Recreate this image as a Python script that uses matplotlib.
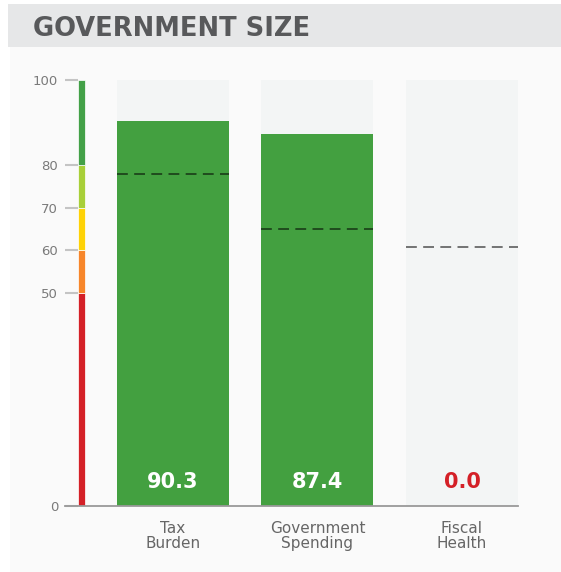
import matplotlib
matplotlib.use("Agg")
import matplotlib.pyplot as plt
from matplotlib.patches import Rectangle

# data
categories = ["Tax\nBurden", "Government\nSpending", "Fiscal\nHealth"]
scores = [90.3, 87.4, 0.0]
averages = [77.9, 65.0, 60.7]
score_text_colors = ["white", "white", "#d42027"]

band_edges = [0, 50, 60, 70, 80, 100]
band_colors = ["#d42027", "#f7862a", "#fed206", "#a8cf38", "#43a047"]
yticks = [0, 50, 60, 70, 80, 100]

W, H = 561, 572
fig = plt.figure(figsize=(W / 100, H / 100), dpi=100)
fig.patch.set_facecolor("white")

# panel and title band
fig.add_artist(Rectangle((10 / W, 0), 1, (H - 47) / H, transform=fig.transFigure,
                         facecolor="#fafafa", edgecolor="none", zorder=0))
fig.add_artist(Rectangle((8 / W, (H - 47) / H), 1, 43 / H, transform=fig.transFigure,
                         facecolor="#e6e7e8", edgecolor="none", zorder=0))
fig.text(33 / W, (H - 36) / H, "GOVERNMENT SIZE", fontsize=18.5, fontweight="bold",
         color="#58595b", va="baseline", ha="left")

ax = fig.add_axes([65 / W, 66 / H, 453 / W, 426 / H])
ax.set_facecolor("none")

x = [0, 1, 2]
bar_w = 0.775
ax.bar(x, [100] * 3, width=bar_w, color="#f3f5f5", zorder=1)
ax.bar(x, scores, width=bar_w, color="#43a040", zorder=2)

for xi, a in zip(x, averages):
    ax.hlines(a, xi - bar_w / 2, xi + bar_w / 2, colors="black", alpha=0.62,
              linewidth=1.2, linestyles=(0, (6.5, 3.8)), zorder=3)

for xi, s, c in zip(x, scores, score_text_colors):
    ax.text(xi, 5.6, f"{s:.1f}", ha="center", va="center", fontsize=15,
            fontweight="bold", color=c, zorder=4)

# colour scale strip
strip_x = -0.633
for lo, hi, col in zip(band_edges[:-1], band_edges[1:], band_colors):
    ax.bar(strip_x, hi - lo, bottom=lo, width=0.0484, color=col,
           edgecolor="white", linewidth=0.5, zorder=2)

ax.set_xlim(-0.747, 2.3875)
ax.set_ylim(0, 100)
ax.set_yticks(yticks)
ax.set_yticklabels([str(t) for t in yticks], color="#7a7a7a", fontsize=9.5)
ax.tick_params(axis="y", direction="in", length=9.4, width=1.5, color="#c4c4c4", pad=5)
ax.set_xticks(x)
ax.set_xticklabels(categories, color="#666666", fontsize=11, linespacing=1.0)
ax.tick_params(axis="x", length=0, pad=11)

for side in ["left", "right", "top"]:
    ax.spines[side].set_visible(False)
ax.spines["bottom"].set_color("#999999")
ax.spines["bottom"].set_linewidth(1.3)
ax.spines["bottom"].set_zorder(5)

fig.savefig("out.png", dpi=100)
